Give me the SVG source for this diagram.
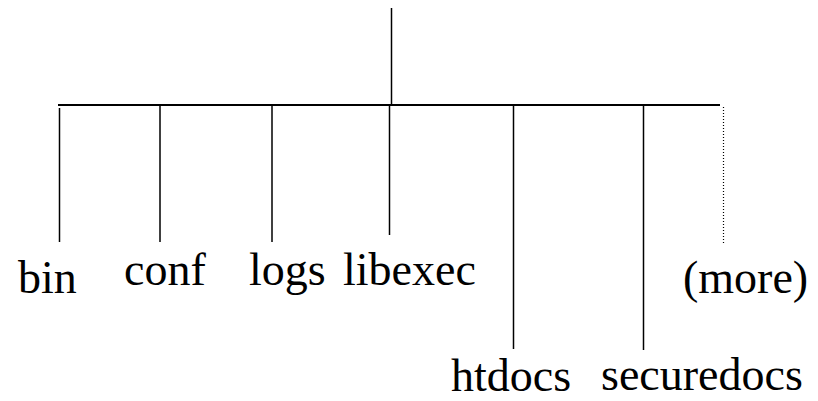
<svg xmlns="http://www.w3.org/2000/svg" width="818" height="401" viewBox="0 0 818 401">
<style>
.ln{stroke:#000;stroke-width:1.5;fill:none}
.bar{stroke:#000;stroke-width:2.2;fill:none}
.dot{stroke:#000;stroke-width:1.2;stroke-dasharray:1 2;fill:none}
text{font-family:"Liberation Serif","Times New Roman",serif;font-size:46px;fill:#000}
</style>
<rect width="818" height="401" fill="#fff"/>
<g id="connectors">
<line class="ln" x1="391.5" y1="8" x2="391.5" y2="104"/>
<line class="bar" x1="58" y1="105" x2="720" y2="105"/>
<line class="ln" x1="59.5" y1="108" x2="59.5" y2="242"/>
<line class="ln" x1="160" y1="106" x2="160" y2="242"/>
<line class="ln" x1="272" y1="106" x2="272" y2="242"/>
<line class="ln" x1="389.5" y1="106" x2="389.5" y2="235"/>
<line class="ln" x1="513.5" y1="106" x2="513.5" y2="349"/>
<line class="ln" x1="643.5" y1="106" x2="643.5" y2="350"/>
<line class="dot" x1="723.5" y1="107" x2="723.5" y2="243"/>
</g>
<g id="bin"><text x="18" y="293">bin</text></g>
<g id="conf"><text x="124" y="285">conf</text></g>
<g id="logs"><text x="249" y="285">logs</text></g>
<g id="libexec"><text x="343" y="285">libexec</text></g>
<g id="htdocs"><text x="451" y="391">htdocs</text></g>
<g id="securedocs"><text x="601" y="390">securedocs</text></g>
<g id="more"><text x="683" y="293">(more)</text></g>
</svg>
